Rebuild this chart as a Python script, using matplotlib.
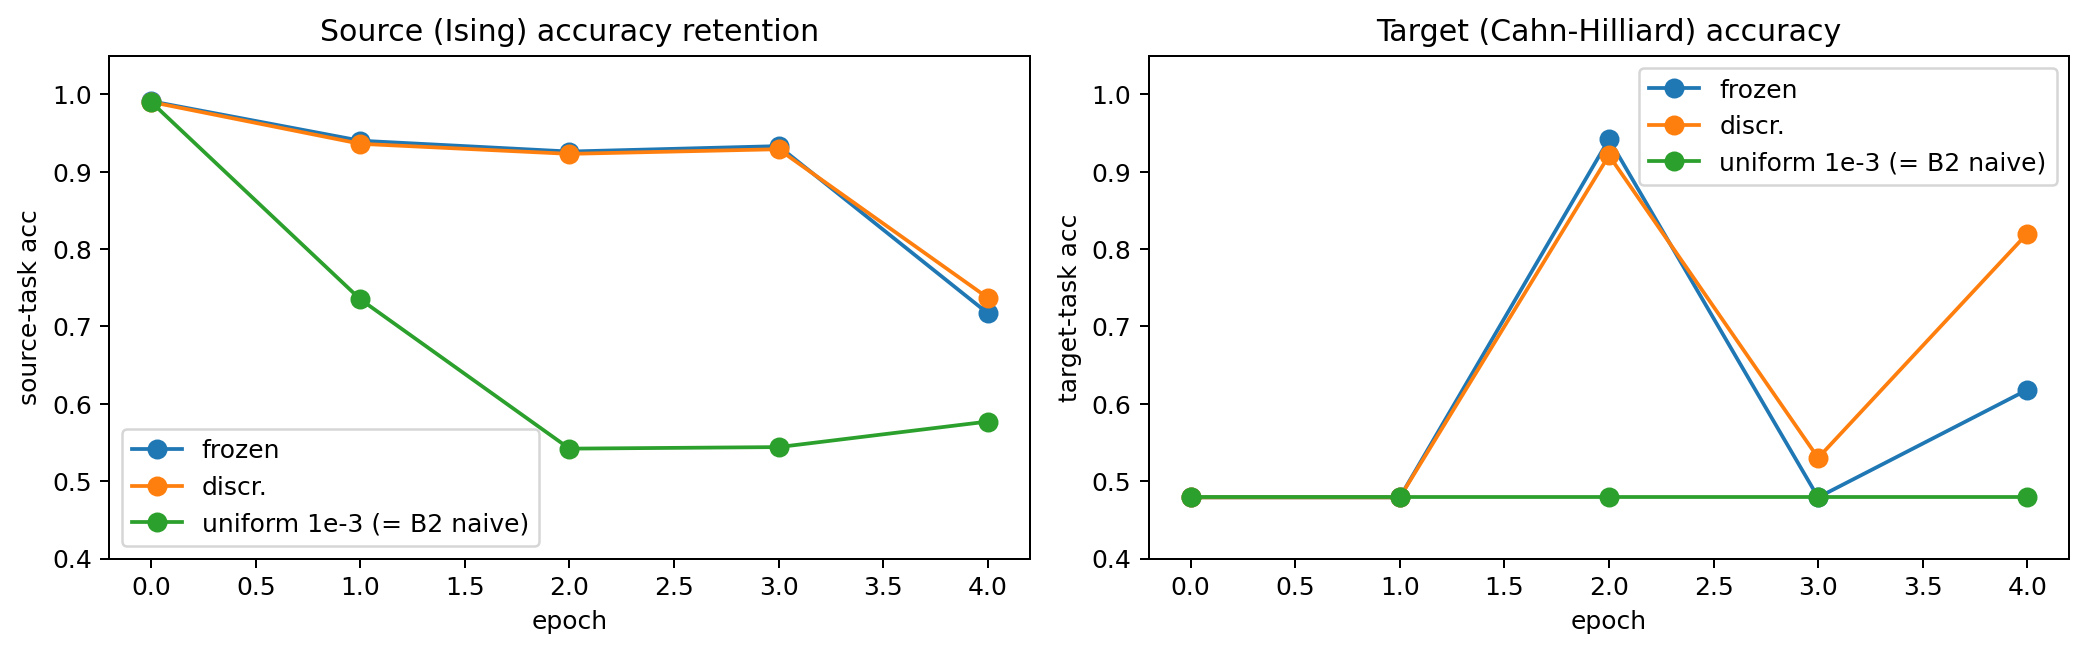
import matplotlib
matplotlib.use("Agg")
import matplotlib.pyplot as plt

epochs = [0, 1, 2, 3, 4]

# source-task (Ising) accuracy per epoch
src_frozen = [0.991, 0.940, 0.926, 0.933, 0.717]
src_discr = [0.990, 0.936, 0.923, 0.929, 0.737]
src_uniform = [0.990, 0.735, 0.542, 0.544, 0.577]

# target-task (Cahn-Hilliard) accuracy per epoch
tgt_frozen = [0.479, 0.479, 0.942, 0.479, 0.618]
tgt_discr = [0.479, 0.479, 0.921, 0.530, 0.820]
tgt_uniform = [0.479, 0.479, 0.479, 0.479, 0.479]

labels = ["frozen", "discr.", "uniform 1e-3 (= B2 naive)"]

fig, axes = plt.subplots(1, 2, figsize=(11.7, 3.75))

ax = axes[0]
for ys, lab in zip([src_frozen, src_discr, src_uniform], labels):
    ax.plot(epochs, ys, marker="o", markersize=7, label=lab)
ax.set_title("Source (Ising) accuracy retention")
ax.set_xlabel("epoch")
ax.set_ylabel("source-task acc")
ax.set_ylim(0.4, 1.05)
ax.legend(loc="lower left")

ax = axes[1]
for ys, lab in zip([tgt_frozen, tgt_discr, tgt_uniform], labels):
    ax.plot(epochs, ys, marker="o", markersize=7, label=lab)
ax.set_title("Target (Cahn-Hilliard) accuracy")
ax.set_xlabel("epoch")
ax.set_ylabel("target-task acc")
ax.set_ylim(0.4, 1.05)
ax.legend(loc="upper right")

plt.tight_layout()
plt.savefig("out.png", dpi=180, bbox_inches="tight")
